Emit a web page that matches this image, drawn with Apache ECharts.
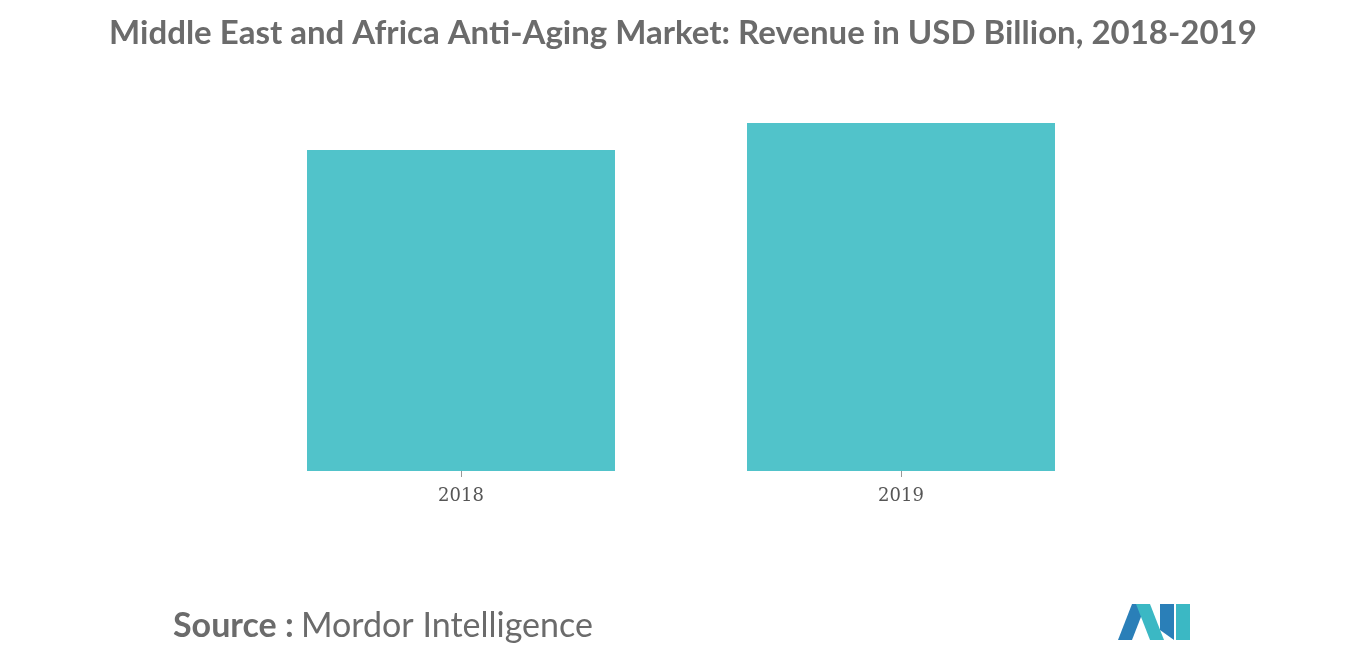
<!DOCTYPE html>
<html><head><meta charset="utf-8">
<script src="https://cdn.jsdelivr.net/npm/echarts@6/dist/echarts.min.js"></script>
<style>html,body{margin:0;padding:0;background:#fff}#c{width:1366px;height:655px}</style>
</head><body><div id="c"></div>
<script>
const categories = ['2018', '2019'];
const revenue = [1.845, 2.0];
const chart = echarts.init(document.getElementById('c'));
chart.setOption({
  animation: false,
  title: {text: 'Middle East and Africa Anti-Aging Market: Revenue in USD Billion, 2018-2019', left: 'center', top: 12,
    textStyle: {fontFamily: 'Lato, "Noto Sans", sans-serif', fontSize: 33, fontWeight: 'bold', color: '#6b6b6b'}},
  grid: {left: 241, right: 245, top: 123, bottom: 184},
  xAxis: {type: 'category', data: categories,
    axisLine: {show: false}, axisTick: {show: true, alignWithLabel: true, length: 6, lineStyle: {color: '#999'}},
    axisLabel: {fontFamily: '"DejaVu Serif", serif', fontSize: 18, color: '#555', margin: 16}},
  yAxis: {type: 'value', min: 0, max: 2.0, show: false, splitLine: {show: false}},
  series: [{type: 'bar', data: revenue, barWidth: '70%', itemStyle: {color: '#51c3ca'}}],
  graphic: [
    {type: 'text', left: 173, top: 609, style: {text: 'Source :', fontFamily: 'Lato, sans-serif', fontSize: 34, fontWeight: 'bold', fill: '#6b6b6b'}},
    {type: 'text', left: 301, top: 609, style: {text: 'Mordor Intelligence', fontFamily: 'Lato, sans-serif', fontSize: 34, fill: '#6b6b6b'}},
    {type: 'polygon', shape: {points: [[1118,640],[1132,604],[1146,604],[1132,640]]}, style: {fill: '#2a7fb8'}},
    {type: 'polygon', shape: {points: [[1136,604],[1150,604],[1164,640],[1150,640]]}, style: {fill: '#3bb8c4'}},
    {type: 'polygon', shape: {points: [[1160,604],[1174,604],[1174,640],[1160,630]]}, style: {fill: '#2a7fb8'}},
    {type: 'polygon', shape: {points: [[1176,604],[1190,604],[1190,640],[1176,640]]}, style: {fill: '#3bb8c4'}}
  ]
});
</script></body></html>
